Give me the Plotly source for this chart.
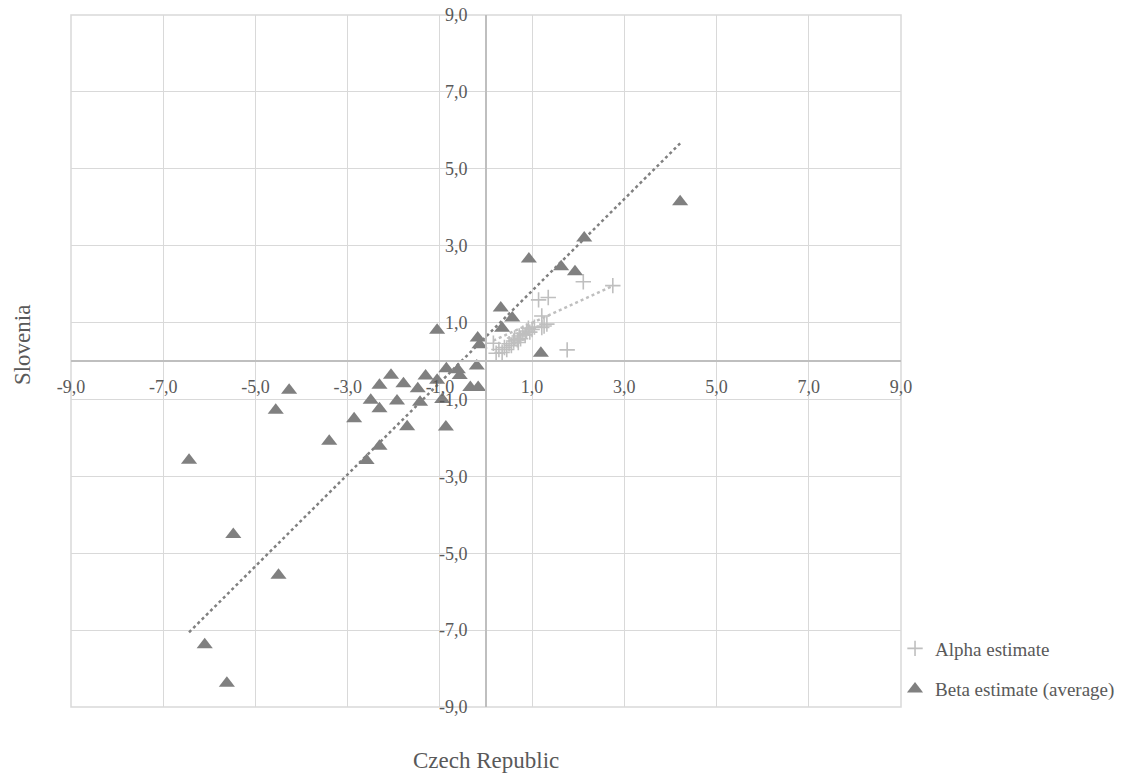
import plotly.graph_objects as go

# ---- data ----
alpha_x = [0.16, 0.22, 0.28, 0.35, 0.40, 0.45, 0.50, 0.55, 0.60, 0.62, 0.68, 0.70, 0.72, 0.75,
           0.80, 0.85, 0.88, 0.92, 0.95, 1.00, 1.05, 1.14, 1.35, 1.21, 1.32, 1.21, 1.26, 1.76,
           2.11, 2.75]
alpha_y = [0.46, 0.20, 0.30, 0.22, 0.35, 0.30, 0.45, 0.40, 0.52, 0.60, 0.55, 0.48, 0.65, 0.58,
           0.72, 0.68, 0.78, 0.85, 0.75, 0.82, 0.88, 1.59, 1.65, 1.17, 0.96, 0.87, 0.91, 0.29,
           2.06, 1.96]

beta_x = [4.21, 2.13, 0.93, 1.63, 1.93, 1.19, 0.32, 0.57, 0.35, -1.06, -0.18, -0.14, -0.20,
          -0.86, -0.61, -0.57, -0.34, -0.17, -1.31, -1.06, -1.48, -0.95, -1.43, -2.06, -1.79,
          -2.31, -2.50, -1.93, -2.31, -2.86, -1.71, -0.87, -6.44, -4.56, -4.27, -3.40, -2.59,
          -2.31, -5.48, -4.50, -6.10, -5.62]
beta_y = [4.14, 3.20, 2.65, 2.45, 2.32, 0.20, 1.38, 1.12, 0.85, 0.80, 0.60, 0.42, -0.13,
          -0.20, -0.23, -0.38, -0.69, -0.69, -0.39, -0.50, -0.72, -1.00, -1.07, -0.37, -0.59,
          -0.63, -1.02, -1.04, -1.24, -1.50, -1.71, -1.72, -2.58, -1.28, -0.76, -2.09, -2.59,
          -2.22, -4.51, -5.57, -7.38, -8.38]

# linear trendline coefficients (slope, intercept)
alpha_trend = [0.549, 0.445]
beta_trend = [1.194, 0.633]

tick_vals = [-9, -7, -5, -3, -1, 1, 3, 5, 7, 9]
tick_text = ["-9,0", "-7,0", "-5,0", "-3,0", "-1,0", "1,0", "3,0", "5,0", "7,0", "9,0"]

series_names = ["Alpha estimate", "Beta estimate (average)"]
x_title = "Czech Republic"
y_title = "Slovenia"

FONT = "Liberation Serif"
TXT = "#595959"


def trend(xs, coef):
    lo, hi = min(xs), max(xs)
    return [lo, hi], [coef[0] * lo + coef[1], coef[0] * hi + coef[1]]


fig = go.Figure()

fig.add_trace(go.Scatter(
    x=alpha_x, y=alpha_y, mode="markers", name=series_names[0],
    legendgroup="a",
    marker=dict(symbol="cross-thin-open", size=11, color="#bfbfbf",
                line=dict(width=1.6, color="#bfbfbf")),
))
fig.add_trace(go.Scatter(
    x=beta_x, y=beta_y, mode="markers", name=series_names[1],
    legendgroup="b",
    marker=dict(symbol="triangle-up", size=14, color="#808080",
                line=dict(width=0)),
))

tx, ty = trend(alpha_x, alpha_trend)
fig.add_trace(go.Scatter(x=tx, y=ty, mode="lines", showlegend=False, hoverinfo="skip",
                         line=dict(color="#bfbfbf", width=2.5, dash="dot")))
tx, ty = trend(beta_x, beta_trend)
fig.add_trace(go.Scatter(x=tx, y=ty, mode="lines", showlegend=False, hoverinfo="skip",
                         line=dict(color="#808080", width=2.5, dash="dot")))

axis_common = dict(
    range=[-9, 9], tickvals=tick_vals, ticktext=tick_text,
    showgrid=True, gridcolor="#d9d9d9", gridwidth=1.3,
    zeroline=False, showline=True, linecolor="#bfbfbf", linewidth=1.6,
    ticks="", tickfont=dict(family=FONT, size=18, color=TXT),
    anchor="free", position=0.5, fixedrange=True, automargin=False,
    ticklabeloverflow="allow",
)

# the page adds an 8px body margin, so the figure is offset by 8px
fig.update_layout(
    width=1121, height=770,
    margin=dict(l=63, r=228, t=7, b=71, autoexpand=False),
    paper_bgcolor="white", plot_bgcolor="white",
    font=dict(family=FONT, color=TXT),
    xaxis=dict(**axis_common, ticklabelstandoff=10),
    yaxis=dict(**axis_common, ticklabelstandoff=14),
    showlegend=True,
    legend=dict(x=0.9928, xanchor="left", y=0.112, yanchor="top",
                font=dict(family=FONT, size=19, color=TXT),
                traceorder="grouped", tracegroupgap=13,
                bgcolor="rgba(0,0,0,0)"),
    shapes=[dict(type="rect", xref="paper", yref="paper", x0=0, x1=1, y0=0, y1=1,
                 line=dict(color="#d9d9d9", width=1.5), layer="below")],
    annotations=[
        dict(text=x_title, xref="paper", yref="paper", x=0.5, y=-0.077,
             xanchor="center", yanchor="middle", showarrow=False,
             font=dict(family=FONT, size=23, color=TXT)),
        dict(text=y_title, xref="paper", yref="paper", x=-0.059, y=0.523,
             xanchor="center", yanchor="middle", showarrow=False, textangle=-90,
             font=dict(family=FONT, size=23, color=TXT)),
    ],
)

fig.write_html("out.html")
